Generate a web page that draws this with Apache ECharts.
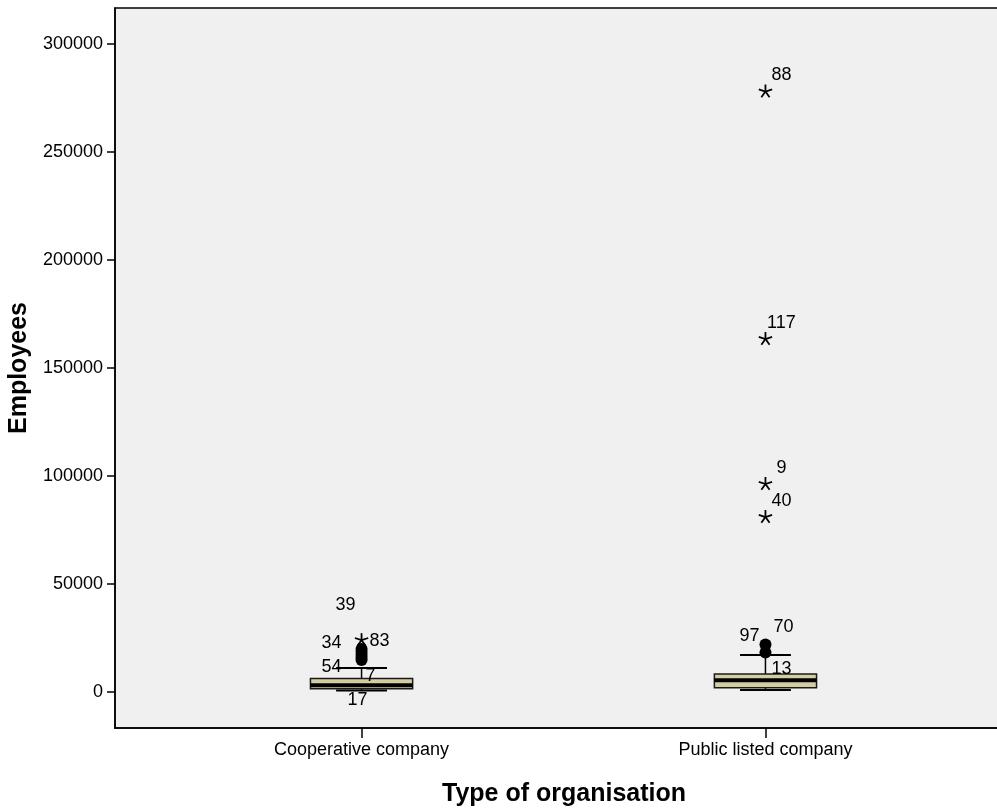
<!DOCTYPE html>
<html><head><meta charset="utf-8">
<script src="https://cdn.jsdelivr.net/npm/echarts@6/dist/echarts.min.js"></script>
<style>html,body{margin:0;padding:0;background:#fff}#c{width:997px;height:808px}</style>
</head><body><div id="c"></div>
<script>
// ---- data ----
const categories = ['Cooperative company', 'Public listed company'];
const yTicks = [0, 50000, 100000, 150000, 200000, 250000, 300000];
// [min, Q1, median, Q3, max]
const boxCoop = [700, 1500, 3100, 6300, 11100];
const boxPublic = [900, 2000, 5400, 8330, 17130];
// outliers (circles)
const circleCoop = [19900, 18600, 17300, 16000, 14800];
const circlePublic = [22000, 18300];
// extreme outliers (stars)
const starCoop = [24000];
const starCoopLabels = ['83'];
const starPublic = [278000, 163400, 96300, 81000];
const starPublicLabels = ['88', '117', '9', '40'];
// case labels near circles / box: [categoryIndex, value, text]
const caseLabels = [
  [1, 40300, '39'],
  [1, 22800, '34'],
  [1, 11700, '54'],
  [1, 7400, '7'],
  [1, -3700, '17'],
  [2, 25900, '97'],
  [2, 30100, '70'],
  [2, 10600, '13']
];
// pixel offsets for labels (layout only)
const caseLabelDx = { '39': -16, '34': -30, '54': -30, '7': 9, '17': -4, '97': -16, '70': 18, '13': 16 };
const starLabelOffset = { '83': [18, 1], default: [16, -16] };

const chart = echarts.init(document.getElementById('c'));
const FONT = '"Liberation Sans", Arial, sans-serif';
const boxData = [[1].concat(boxCoop), [2].concat(boxPublic)];
const circles = circleCoop.map(v => [1, v]).concat(circlePublic.map(v => [2, v]));
const stars = starCoop.map((v, i) => [1, v, starCoopLabels[i]]).concat(starPublic.map((v, i) => [2, v, starPublicLabels[i]]));

chart.setOption({
  animation: false,
  backgroundColor: '#ffffff',
  grid: { left: 115, top: 8, right: -2, bottom: 80, outerBoundsMode: 'none', containLabel: false, show: true, backgroundColor: '#f0f0f0', borderColor: '#000', borderWidth: 1.5 },
  xAxis: {
    type: 'value', min: 0.3896, max: 2.5782,
    splitLine: { show: false },
    axisLine: { show: true, onZero: false, lineStyle: { color: '#000', width: 1.5 } },
    axisTick: { show: true, length: 10, customValues: [1, 2], lineStyle: { color: '#000', width: 1.5 } },
    axisLabel: { customValues: [1, 2], formatter: v => categories[Math.round(v) - 1] || '', color: '#000', fontSize: 18, fontFamily: FONT, margin: 13 },
    name: 'Type of organisation', nameLocation: 'middle', nameGap: 54,
    nameTextStyle: { fontSize: 25, fontWeight: 'bold', color: '#000', fontFamily: FONT, padding: [0, 0, 0, 14] }
  },
  yAxis: {
    type: 'value', min: -16667, max: 316667,
    splitLine: { show: false },
    axisLine: { show: true, onZero: false, lineStyle: { color: '#000', width: 1.5 } },
    axisTick: { show: true, length: 8, customValues: yTicks, lineStyle: { color: '#000', width: 1.5 } },
    axisLabel: { customValues: yTicks, formatter: v => String(v), color: '#000', fontSize: 18, fontFamily: FONT, margin: 12 },
    name: 'Employees', nameLocation: 'middle', nameGap: 80, nameRotate: 90,
    nameTextStyle: { fontSize: 25, fontWeight: 'bold', color: '#000', fontFamily: FONT }
  },
  series: [
    {
      type: 'custom', data: boxData, z: 3,
      renderItem: function (params, api) {
        const x = api.value(0);
        const w = api.size([0.253, 0])[0];
        const cw = api.size([0.126, 0])[0];
        const pMin = api.coord([x, api.value(1)]);
        const pQ1 = api.coord([x, api.value(2)]);
        const pMed = api.coord([x, api.value(3)]);
        const pQ3 = api.coord([x, api.value(4)]);
        const pMax = api.coord([x, api.value(5)]);
        const cx = pMed[0];
        const ls = { stroke: '#000', lineWidth: 1.5 };
        return {
          type: 'group', children: [
            { type: 'line', shape: { x1: cx, y1: pQ3[1], x2: cx, y2: pMax[1] }, style: ls },
            { type: 'line', shape: { x1: cx, y1: pQ1[1], x2: cx, y2: pMin[1] }, style: ls },
            { type: 'line', shape: { x1: cx - cw / 2, y1: pMax[1], x2: cx + cw / 2, y2: pMax[1] }, style: { stroke: '#000', lineWidth: 2 } },
            { type: 'line', shape: { x1: cx - cw / 2, y1: pMin[1], x2: cx + cw / 2, y2: pMin[1] }, style: { stroke: '#000', lineWidth: 2 } },
            { type: 'rect', shape: { x: cx - w / 2, y: pQ3[1], width: w, height: pQ1[1] - pQ3[1] }, style: { fill: '#d3cea2', stroke: '#1a1a1a', lineWidth: 1.5 } },
            { type: 'line', shape: { x1: cx - w / 2, y1: pMed[1], x2: cx + w / 2, y2: pMed[1] }, style: { stroke: '#000', lineWidth: 4 } }
          ]
        };
      }
    },
    {
      type: 'scatter', data: circles, symbol: 'circle', symbolSize: 12, z: 4,
      itemStyle: { color: '#000', opacity: 1 }
    },
    {
      type: 'custom', data: stars, z: 5,
      renderItem: function (params, api) {
        const p = api.coord([api.value(0), api.value(1)]);
        const r = 7;
        const children = [];
        for (let k = 0; k < 5; k++) {
          const a = -Math.PI / 2 + k * 2 * Math.PI / 5;
          children.push({ type: 'line', shape: { x1: p[0], y1: p[1], x2: p[0] + r * Math.cos(a), y2: p[1] + r * Math.sin(a) }, style: { stroke: '#000', lineWidth: 1.8 } });
        }
        const t = String(api.value(2));
        const off = starLabelOffset[t] || starLabelOffset.default;
        children.push({ type: 'text', x: p[0] + off[0], y: p[1] + off[1], style: { text: t, fill: '#000', fontSize: 18, fontFamily: FONT, align: 'center', verticalAlign: 'middle' } });
        return { type: 'group', children: children };
      }
    },
    {
      type: 'custom', data: caseLabels, z: 6,
      renderItem: function (params, api) {
        const p = api.coord([api.value(0), api.value(1)]);
        const t = api.value(2);
        return { type: 'text', x: p[0] + (caseLabelDx[t] || 0), y: p[1], style: { text: t, fill: '#000', fontSize: 18, fontFamily: FONT, align: 'center', verticalAlign: 'middle' } };
      }
    }
  ]
});
</script></body></html>
